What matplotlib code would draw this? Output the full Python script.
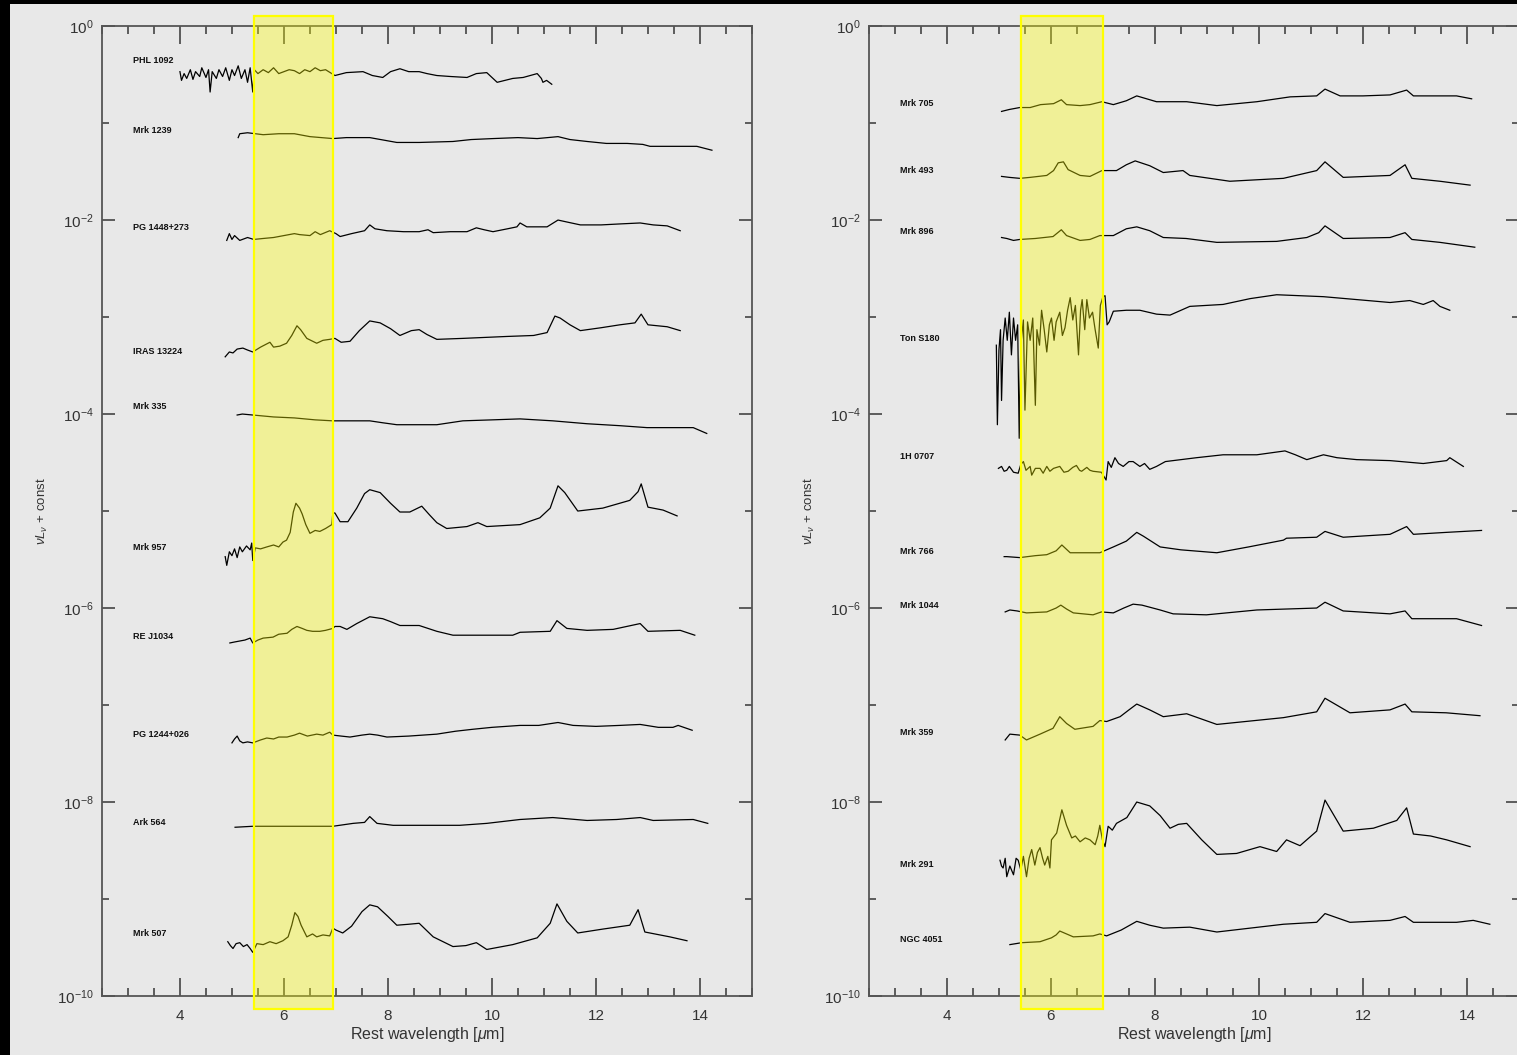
import numpy as np
import matplotlib
matplotlib.use("Agg")
import matplotlib.pyplot as plt
from matplotlib.patches import Rectangle
from matplotlib.transforms import blended_transform_factory
from matplotlib.ticker import FixedLocator, MultipleLocator, NullFormatter, FuncFormatter

plt.rcParams["font.family"] = ["Liberation Sans", "DejaVu Sans"]
plt.rcParams["mathtext.fontset"] = "custom"
plt.rcParams["mathtext.rm"] = "Liberation Sans"
plt.rcParams["mathtext.it"] = "Liberation Sans:italic"

# ---------------- data: wavelength [um] and log10(nu L_nu + const) ----------------
# left panel
phl1092_wl = [4.00, 4.03, 4.08, 4.13, 4.20, 4.25, 4.30, 4.38, 4.42, 4.50,
              4.55, 4.58, 4.62, 4.70, 4.75, 4.82, 4.88, 4.95, 5.00, 5.05,
              5.12, 5.18, 5.25, 5.30, 5.35, 5.40, 5.43, 5.50, 5.60, 5.70,
              5.80, 5.90, 6.00, 6.10, 6.20, 6.30, 6.40, 6.50, 6.60, 6.70,
              6.80, 6.98, 7.20, 7.52, 7.70, 7.90, 8.05, 8.23, 8.40, 8.60,
              8.75, 8.94, 9.20, 9.52, 9.70, 9.90, 10.10, 10.25, 10.40, 10.60,
              10.87, 10.95, 10.98, 11.05, 11.15]
phl1092_lg = [-0.47, -0.56, -0.49, -0.54, -0.45, -0.55, -0.47, -0.52, -0.43, -0.53,
              -0.45, -0.68, -0.47, -0.54, -0.45, -0.52, -0.43, -0.56, -0.45, -0.51,
              -0.41, -0.54, -0.45, -0.58, -0.43, -0.68, -0.45, -0.49, -0.45, -0.48,
              -0.43, -0.49, -0.47, -0.45, -0.46, -0.49, -0.45, -0.47, -0.43, -0.46,
              -0.45, -0.51, -0.48, -0.47, -0.51, -0.53, -0.47, -0.44, -0.47, -0.47,
              -0.49, -0.51, -0.52, -0.53, -0.49, -0.48, -0.58, -0.56, -0.54, -0.53,
              -0.49, -0.54, -0.58, -0.56, -0.60]

mrk1239_wl = [5.12, 5.15, 5.30, 5.60, 5.90, 6.20, 6.50, 6.94, 7.20, 7.65,
              8.17, 8.60, 9.25, 9.60, 10.02, 10.50, 10.87, 11.27, 11.50, 11.83,
              12.20, 12.60, 12.90, 13.04, 13.50, 13.94, 14.23]
mrk1239_lg = [-1.15, -1.11, -1.10, -1.12, -1.11, -1.11, -1.14, -1.16, -1.15, -1.15,
              -1.20, -1.20, -1.19, -1.17, -1.16, -1.15, -1.16, -1.14, -1.17, -1.19,
              -1.21, -1.21, -1.22, -1.24, -1.24, -1.24, -1.28]

pg1448_wl = [4.90, 4.95, 5.00, 5.05, 5.15, 5.30, 5.42, 5.60, 5.80, 6.00,
             6.20, 6.30, 6.50, 6.60, 6.70, 6.88, 7.00, 7.08, 7.30, 7.55,
             7.65, 7.75, 7.98, 8.30, 8.60, 8.77, 8.87, 9.20, 9.52, 9.70,
             9.85, 10.02, 10.30, 10.48, 10.54, 10.67, 11.06, 11.27, 11.44, 11.70,
             12.10, 12.46, 12.85, 13.10, 13.37, 13.62]
pg1448_lg = [-2.21, -2.14, -2.20, -2.16, -2.21, -2.18, -2.20, -2.19, -2.18, -2.16,
             -2.14, -2.15, -2.16, -2.12, -2.15, -2.11, -2.14, -2.17, -2.14, -2.11,
             -2.05, -2.09, -2.11, -2.12, -2.12, -2.10, -2.13, -2.12, -2.12, -2.08,
             -2.10, -2.12, -2.09, -2.07, -2.03, -2.07, -2.07, -2.00, -2.02, -2.05,
             -2.05, -2.04, -2.03, -2.05, -2.06, -2.11]

iras13224_wl = [4.87, 4.95, 5.02, 5.10, 5.21, 5.30, 5.40, 5.55, 5.73, 5.80,
                5.92, 6.05, 6.15, 6.25, 6.32, 6.44, 6.63, 6.75, 6.88, 6.98,
                7.10, 7.27, 7.45, 7.65, 7.85, 8.05, 8.23, 8.45, 8.60, 8.75,
                8.94, 9.44, 10.29, 10.80, 11.06, 11.21, 11.31, 11.50, 11.70, 12.10,
                12.46, 12.75, 12.87, 13.00, 13.37, 13.62]
iras13224_lg = [-3.41, -3.36, -3.37, -3.33, -3.32, -3.34, -3.36, -3.31, -3.26, -3.31,
                -3.30, -3.27, -3.19, -3.09, -3.13, -3.22, -3.27, -3.24, -3.23, -3.22,
                -3.26, -3.25, -3.14, -3.04, -3.06, -3.12, -3.19, -3.14, -3.13, -3.18,
                -3.23, -3.22, -3.20, -3.19, -3.16, -2.99, -3.01, -3.08, -3.14, -3.11,
                -3.08, -3.06, -2.97, -3.08, -3.10, -3.14]

mrk335_wl = [5.10, 5.20, 5.40, 5.80, 6.20, 6.60, 6.94, 7.30, 7.65, 7.90,
             8.17, 8.94, 9.44, 10.00, 10.54, 11.17, 11.83, 12.46, 12.98, 13.87, 14.13]
mrk335_lg = [-4.01, -4.00, -4.01, -4.03, -4.04, -4.06, -4.07, -4.07, -4.07, -4.09,
             -4.11, -4.11, -4.07, -4.06, -4.05, -4.07, -4.10, -4.12, -4.14, -4.14, -4.20]

mrk957_wl = [4.87, 4.90, 4.95, 5.00, 5.05, 5.10, 5.15, 5.20, 5.28, 5.35,
             5.38, 5.40, 5.45, 5.55, 5.67, 5.80, 5.90, 5.98, 6.05, 6.12,
             6.18, 6.23, 6.30, 6.35, 6.42, 6.50, 6.60, 6.69, 6.80, 6.92,
             6.94, 6.98, 7.08, 7.23, 7.40, 7.55, 7.65, 7.85, 8.05, 8.23,
             8.42, 8.65, 8.80, 8.94, 9.13, 9.52, 9.73, 9.90, 10.54, 10.92,
             11.12, 11.27, 11.40, 11.65, 12.13, 12.65, 12.81, 12.87, 13.00, 13.29,
             13.56]
mrk957_lg = [-5.47, -5.56, -5.42, -5.46, -5.39, -5.48, -5.37, -5.42, -5.36, -5.40,
             -5.33, -5.51, -5.38, -5.39, -5.37, -5.35, -5.37, -5.32, -5.30, -5.22,
             -5.01, -4.92, -4.97, -5.03, -5.14, -5.23, -5.20, -5.21, -5.18, -5.14,
             -5.02, -5.02, -5.11, -5.11, -4.97, -4.82, -4.78, -4.81, -4.92, -5.01,
             -5.01, -4.95, -5.04, -5.12, -5.18, -5.16, -5.12, -5.16, -5.14, -5.07,
             -4.97, -4.74, -4.81, -5.00, -4.97, -4.89, -4.80, -4.72, -4.96, -4.99,
             -5.05]

rej1034_wl = [4.96, 5.05, 5.15, 5.25, 5.35, 5.40, 5.50, 5.60, 5.79, 5.90,
              6.06, 6.15, 6.25, 6.35, 6.44, 6.55, 6.69, 6.80, 6.94, 6.98,
              7.08, 7.21, 7.40, 7.65, 7.90, 8.05, 8.23, 8.60, 8.94, 9.25,
              9.80, 10.40, 10.54, 11.12, 11.25, 11.44, 11.83, 12.33, 12.85, 13.00,
              13.62, 13.90]
rej1034_lg = [-6.36, -6.35, -6.34, -6.33, -6.31, -6.36, -6.33, -6.31, -6.30, -6.27,
              -6.26, -6.22, -6.19, -6.21, -6.23, -6.24, -6.24, -6.23, -6.21, -6.19,
              -6.19, -6.22, -6.16, -6.09, -6.11, -6.14, -6.18, -6.18, -6.24, -6.28,
              -6.28, -6.28, -6.25, -6.24, -6.13, -6.21, -6.23, -6.22, -6.16, -6.24,
              -6.23, -6.28]

pg1244_wl = [5.00, 5.05, 5.10, 5.15, 5.21, 5.30, 5.40, 5.55, 5.67, 5.80,
             5.90, 6.06, 6.20, 6.30, 6.45, 6.63, 6.75, 6.88, 6.94, 7.10,
             7.27, 7.50, 7.65, 7.80, 7.98, 8.40, 8.94, 9.30, 9.63, 10.00,
             10.54, 10.90, 11.27, 11.56, 12.00, 12.46, 12.85, 13.20, 13.48, 13.58,
             13.85]
pg1244_lg = [-7.39, -7.35, -7.32, -7.37, -7.39, -7.38, -7.39, -7.36, -7.34, -7.35,
             -7.33, -7.33, -7.31, -7.29, -7.32, -7.30, -7.31, -7.28, -7.31, -7.32,
             -7.33, -7.31, -7.30, -7.31, -7.33, -7.32, -7.30, -7.27, -7.25, -7.23,
             -7.21, -7.21, -7.18, -7.21, -7.22, -7.21, -7.20, -7.23, -7.23, -7.21,
             -7.26]

ark564_wl = [5.06, 5.40, 5.80, 6.20, 6.60, 6.94, 7.33, 7.55, 7.65, 7.79,
             8.10, 8.94, 9.38, 9.90, 10.54, 11.17, 11.83, 12.40, 12.85, 13.10,
             13.87, 14.15]
ark564_lg = [-8.26, -8.25, -8.25, -8.25, -8.25, -8.25, -8.22, -8.21, -8.15, -8.22,
             -8.24, -8.24, -8.24, -8.22, -8.18, -8.16, -8.19, -8.18, -8.16, -8.19,
             -8.18, -8.22]

mrk507_wl = [4.92, 4.97, 5.02, 5.08, 5.15, 5.22, 5.29, 5.35, 5.40, 5.48,
             5.60, 5.73, 5.85, 5.98, 6.08, 6.15, 6.21, 6.27, 6.33, 6.44,
             6.55, 6.63, 6.75, 6.88, 6.94, 7.00, 7.13, 7.30, 7.50, 7.65,
             7.80, 8.00, 8.17, 8.40, 8.60, 8.87, 9.25, 9.50, 9.70, 9.90,
             10.40, 10.87, 11.12, 11.25, 11.44, 11.65, 12.13, 12.65, 12.81, 12.94,
             13.42, 13.75]
mrk507_lg = [-9.44, -9.48, -9.51, -9.46, -9.45, -9.49, -9.47, -9.51, -9.55, -9.46,
             -9.47, -9.44, -9.46, -9.43, -9.39, -9.27, -9.14, -9.18, -9.27, -9.39,
             -9.36, -9.39, -9.37, -9.38, -9.30, -9.32, -9.35, -9.28, -9.13, -9.06,
             -9.08, -9.18, -9.27, -9.26, -9.25, -9.39, -9.49, -9.48, -9.45, -9.52,
             -9.47, -9.40, -9.25, -9.05, -9.23, -9.35, -9.31, -9.27, -9.11, -9.34,
             -9.39, -9.43]

# right panel
mrk705_wl = [5.05, 5.20, 5.40, 5.60, 5.80, 6.05, 6.20, 6.30, 6.56, 6.75,
             6.98, 7.20, 7.45, 7.65, 8.03, 8.61, 9.19, 9.96, 10.60, 11.11,
             11.27, 11.56, 12.00, 12.52, 12.84, 12.97, 13.40, 13.80, 14.09]
mrk705_lg = [-0.88, -0.86, -0.84, -0.84, -0.81, -0.80, -0.76, -0.81, -0.82, -0.81,
             -0.78, -0.81, -0.77, -0.72, -0.78, -0.78, -0.82, -0.78, -0.73, -0.72,
             -0.65, -0.72, -0.72, -0.71, -0.66, -0.72, -0.72, -0.72, -0.75]

mrk493_wl = [5.05, 5.20, 5.40, 5.60, 5.92, 6.05, 6.14, 6.24, 6.33, 6.56,
             6.75, 6.98, 7.26, 7.45, 7.62, 7.90, 8.16, 8.54, 8.67, 9.44,
             10.47, 11.11, 11.27, 11.62, 12.52, 12.81, 12.94, 13.48, 14.06]
mrk493_lg = [-1.55, -1.56, -1.57, -1.56, -1.54, -1.49, -1.41, -1.40, -1.48, -1.54,
             -1.55, -1.49, -1.49, -1.43, -1.39, -1.44, -1.51, -1.49, -1.54, -1.60,
             -1.57, -1.49, -1.40, -1.56, -1.54, -1.43, -1.57, -1.60, -1.64]

mrk896_wl = [5.05, 5.15, 5.28, 5.40, 5.70, 6.04, 6.20, 6.30, 6.56, 6.75,
             6.94, 7.20, 7.45, 7.65, 7.90, 8.16, 8.60, 9.19, 10.34, 10.92,
             11.15, 11.27, 11.62, 12.52, 12.81, 12.94, 13.48, 14.15]
mrk896_lg = [-2.18, -2.19, -2.21, -2.20, -2.19, -2.17, -2.10, -2.16, -2.21, -2.20,
             -2.16, -2.16, -2.09, -2.07, -2.11, -2.18, -2.19, -2.23, -2.22, -2.18,
             -2.13, -2.06, -2.19, -2.18, -2.13, -2.20, -2.23, -2.28]

tons180_wl = [4.95, 4.97, 5.00, 5.03, 5.05, 5.08, 5.12, 5.16, 5.20, 5.24,
              5.28, 5.32, 5.36, 5.39, 5.42, 5.47, 5.50, 5.55, 5.60, 5.65,
              5.70, 5.73, 5.78, 5.82, 5.87, 5.92, 5.97, 6.01, 6.06, 6.10,
              6.17, 6.22, 6.27, 6.32, 6.37, 6.42, 6.47, 6.53, 6.57, 6.60,
              6.65, 6.69, 6.74, 6.80, 6.85, 6.91, 6.95, 7.00, 7.04, 7.08,
              7.12, 7.20, 7.45, 7.71, 8.03, 8.29, 8.67, 9.31, 9.83, 10.34,
              11.24, 11.88, 12.52, 12.90, 13.16, 13.35, 13.48, 13.67]
tons180_lg = [-3.29, -4.11, -3.34, -3.13, -3.86, -3.24, -3.01, -3.24, -2.95, -3.39,
              -3.01, -3.24, -3.08, -4.25, -3.29, -3.03, -3.96, -3.05, -3.24, -3.01,
              -3.91, -3.13, -3.29, -2.93, -3.13, -3.36, -3.08, -3.01, -3.24, -3.05,
              -2.95, -3.19, -3.11, -2.93, -2.80, -3.03, -2.88, -3.39, -2.93, -2.82,
              -3.13, -2.82, -3.01, -2.95, -3.13, -3.32, -2.88, -2.79, -2.78, -3.08,
              -3.05, -2.94, -2.93, -2.93, -2.97, -2.98, -2.89, -2.87, -2.81, -2.77,
              -2.79, -2.82, -2.85, -2.83, -2.87, -2.83, -2.89, -2.93]

h0707_wl = [4.99, 5.05, 5.10, 5.15, 5.20, 5.28, 5.37, 5.42, 5.47, 5.52,
            5.60, 5.63, 5.70, 5.79, 5.85, 5.92, 5.98, 6.05, 6.17, 6.25,
            6.33, 6.42, 6.49, 6.55, 6.59, 6.69, 6.75, 6.81, 6.97, 7.06,
            7.10, 7.16, 7.23, 7.30, 7.39, 7.50, 7.58, 7.71, 7.80, 7.90,
            8.03, 8.20, 8.35, 8.80, 9.31, 9.96, 10.50, 10.70, 10.92, 11.24,
            11.50, 11.88, 12.52, 13.16, 13.61, 13.67, 13.93]
h0707_lg = [-4.56, -4.54, -4.59, -4.58, -4.54, -4.60, -4.61, -4.52, -4.49, -4.58,
            -4.54, -4.63, -4.56, -4.56, -4.61, -4.54, -4.59, -4.56, -4.54, -4.60,
            -4.59, -4.55, -4.53, -4.58, -4.59, -4.55, -4.58, -4.59, -4.60, -4.68,
            -4.49, -4.55, -4.45, -4.51, -4.54, -4.49, -4.49, -4.54, -4.51, -4.57,
            -4.54, -4.49, -4.48, -4.45, -4.42, -4.42, -4.38, -4.42, -4.47, -4.42,
            -4.45, -4.47, -4.48, -4.51, -4.48, -4.45, -4.54]

mrk766_wl = [5.10, 5.15, 5.40, 5.70, 5.92, 6.10, 6.21, 6.37, 6.70, 6.94,
             7.20, 7.45, 7.65, 7.78, 8.10, 8.50, 9.19, 9.80, 10.47, 10.53,
             11.11, 11.27, 11.62, 12.52, 12.84, 12.97, 13.60, 14.28]
mrk766_lg = [-5.47, -5.47, -5.48, -5.46, -5.45, -5.41, -5.35, -5.43, -5.43, -5.43,
             -5.37, -5.31, -5.22, -5.26, -5.37, -5.40, -5.43, -5.37, -5.30, -5.28,
             -5.27, -5.21, -5.27, -5.24, -5.16, -5.24, -5.22, -5.20]

mrk1044_wl = [5.12, 5.21, 5.35, 5.53, 5.92, 6.10, 6.19, 6.30, 6.43, 6.81,
              6.97, 7.20, 7.40, 7.58, 7.75, 8.10, 8.35, 8.99, 9.96, 11.11,
              11.27, 11.62, 12.52, 12.81, 12.94, 13.80, 14.28]
mrk1044_lg = [-6.04, -6.02, -6.03, -6.05, -6.04, -6.00, -5.97, -6.01, -6.05, -6.07,
              -6.04, -6.05, -6.00, -5.96, -5.97, -6.02, -6.06, -6.07, -6.02, -6.00,
              -5.94, -6.03, -6.06, -6.03, -6.11, -6.11, -6.18]

mrk359_wl = [5.12, 5.21, 5.40, 5.53, 5.79, 6.04, 6.17, 6.30, 6.46, 6.81,
             6.94, 7.07, 7.33, 7.50, 7.65, 7.90, 8.16, 8.61, 9.19, 10.47,
             11.11, 11.27, 11.75, 12.52, 12.81, 12.94, 13.60, 14.25]
mrk359_lg = [-7.36, -7.30, -7.31, -7.36, -7.30, -7.24, -7.12, -7.19, -7.25, -7.22,
             -7.16, -7.17, -7.12, -7.05, -6.99, -7.05, -7.12, -7.09, -7.20, -7.13,
             -7.07, -6.93, -7.08, -7.05, -6.99, -7.07, -7.08, -7.11]

mrk291_wl = [5.02, 5.05, 5.08, 5.12, 5.15, 5.21, 5.28, 5.33, 5.37, 5.42,
             5.47, 5.53, 5.58, 5.63, 5.69, 5.74, 5.79, 5.84, 5.88, 5.94,
             5.98, 6.01, 6.11, 6.21, 6.30, 6.40, 6.47, 6.56, 6.66, 6.75,
             6.85, 6.90, 6.94, 6.99, 7.04, 7.10, 7.18, 7.26, 7.46, 7.65,
             7.90, 8.10, 8.29, 8.45, 8.61, 8.90, 9.19, 9.57, 10.02, 10.34,
             10.53, 10.79, 11.11, 11.27, 11.62, 12.20, 12.65, 12.84, 12.97, 13.30,
             13.61, 14.06]
mrk291_lg = [-8.60, -8.66, -8.68, -8.58, -8.77, -8.66, -8.75, -8.58, -8.60, -8.70,
             -8.56, -8.77, -8.58, -8.49, -8.65, -8.52, -8.47, -8.58, -8.65, -8.56,
             -8.68, -8.39, -8.32, -8.08, -8.24, -8.37, -8.35, -8.41, -8.37, -8.39,
             -8.44, -8.35, -8.24, -8.39, -8.46, -8.25, -8.29, -8.22, -8.16, -8.00,
             -8.04, -8.14, -8.27, -8.23, -8.22, -8.39, -8.54, -8.53, -8.46, -8.51,
             -8.39, -8.45, -8.30, -7.98, -8.30, -8.27, -8.19, -8.06, -8.33, -8.35,
             -8.39, -8.46]

ngc4051_wl = [5.21, 5.44, 5.79, 6.01, 6.10, 6.17, 6.30, 6.43, 6.81, 6.94,
              7.07, 7.35, 7.65, 7.90, 8.16, 8.67, 9.19, 10.47, 11.11, 11.27,
              11.75, 12.52, 12.81, 12.97, 13.80, 14.12, 14.44]
ngc4051_lg = [-9.47, -9.45, -9.44, -9.40, -9.37, -9.33, -9.36, -9.39, -9.38, -9.36,
              -9.38, -9.32, -9.23, -9.27, -9.30, -9.29, -9.34, -9.26, -9.24, -9.15,
              -9.24, -9.22, -9.18, -9.24, -9.24, -9.22, -9.26]

left_names = ["PHL 1092", "Mrk 1239", "PG 1448+273", "IRAS 13224", "Mrk 335",
              "Mrk 957", "RE J1034", "PG 1244+026", "Ark 564", "Mrk 507"]
left_wl = [phl1092_wl, mrk1239_wl, pg1448_wl, iras13224_wl, mrk335_wl,
           mrk957_wl, rej1034_wl, pg1244_wl, ark564_wl, mrk507_wl]
left_lg = [phl1092_lg, mrk1239_lg, pg1448_lg, iras13224_lg, mrk335_lg,
           mrk957_lg, rej1034_lg, pg1244_lg, ark564_lg, mrk507_lg]
left_label_lg = [-0.35, -1.08, -2.08, -3.36, -3.92, -5.38, -6.29, -7.30, -8.21, -9.36]

right_names = ["Mrk 705", "Mrk 493", "Mrk 896", "Ton S180", "1H 0707",
               "Mrk 766", "Mrk 1044", "Mrk 359", "Mrk 291", "NGC 4051"]
right_wl = [mrk705_wl, mrk493_wl, mrk896_wl, tons180_wl, h0707_wl,
            mrk766_wl, mrk1044_wl, mrk359_wl, mrk291_wl, ngc4051_wl]
right_lg = [mrk705_lg, mrk493_lg, mrk896_lg, tons180_lg, h0707_lg,
            mrk766_lg, mrk1044_lg, mrk359_lg, mrk291_lg, ngc4051_lg]
right_label_lg = [-0.80, -1.49, -2.12, -3.22, -4.44, -5.42, -5.97, -7.28, -8.64, -9.42]

# 6.2 um PAH window highlighted in both panels
left_band = [5.42, 6.95]
right_band = [5.42, 7.00]

# ---------------- figure ----------------
bg = "#e8e8e8"
fig = plt.figure(figsize=(15.17, 10.55), dpi=100, facecolor=bg)
ax_l = fig.add_axes([0.0672, 0.0559, 0.4285, 0.9194])
ax_r = fig.add_axes([0.5728, 0.0559, 0.4285, 0.9194])

# black frame strips of the original screenshot
fig.add_artist(Rectangle((0, 1 - 4 / 1055), 1, 4 / 1055, transform=fig.transFigure,
                         facecolor="black", edgecolor="none"))
fig.add_artist(Rectangle((0, 0), 10 / 1517, 1, transform=fig.transFigure,
                         facecolor="black", edgecolor="none"))


def draw_panel(ax, names, wls, lgs, label_lg, band):
    ax.set_facecolor("none")
    ax.set_yscale("log")
    ax.set_xlim(2.5, 15)
    ax.set_ylim(1e-10, 1)

    for name, wl, lg, ly in zip(names, wls, lgs, label_lg):
        ax.plot(wl, np.power(10.0, lg), color="black", lw=0.9, zorder=3)
        ax.text(3.1, 10.0 ** ly, name, fontsize=6.5, fontweight="bold",
                va="center", ha="left", color="#111")

    trans = blended_transform_factory(ax.transData, ax.transAxes)
    ax.add_patch(Rectangle((band[0], -0.0134), band[1] - band[0], 1.0237,
                           transform=trans, facecolor=(1, 1, 0, 0.35),
                           edgecolor=(1, 1, 0, 1), lw=1.6, clip_on=False, zorder=5))

    ax.set_yticks([10.0 ** k for k in range(0, -11, -2)])
    ax.yaxis.set_major_formatter(FuncFormatter(lambda v, p: r"$10^{%d}$" % round(np.log10(v))))
    ax.yaxis.set_minor_locator(FixedLocator([10.0 ** k for k in range(-1, -10, -2)]))
    ax.yaxis.set_minor_formatter(NullFormatter())
    ax.set_xticks([4, 6, 8, 10, 12, 14])
    ax.xaxis.set_minor_locator(MultipleLocator(0.5))

    ax.tick_params(which="both", direction="in", top=True, right=True,
                   color="#444", labelcolor="#333")
    ax.tick_params(axis="x", which="major", length=13, width=1.2, labelsize=11, pad=9)
    ax.tick_params(axis="x", which="minor", length=6, width=1.2)
    ax.tick_params(axis="y", which="major", length=9.5, width=1.2, labelsize=11, pad=6)
    ax.tick_params(axis="y", which="minor", length=5, width=1.2)
    for s in ax.spines.values():
        s.set_color("#555")
        s.set_linewidth(1.3)

    ax.set_xlabel(r"Rest wavelength [$\mu$m]", fontsize=11.5, color="#333", labelpad=2)
    ax.set_ylabel(r"$\nu L_\nu$ + const", fontsize=9.5, color="#333", labelpad=5)


draw_panel(ax_l, left_names, left_wl, left_lg, left_label_lg, left_band)
draw_panel(ax_r, right_names, right_wl, right_lg, right_label_lg, right_band)

fig.savefig("out.png", dpi=100, facecolor=bg)
